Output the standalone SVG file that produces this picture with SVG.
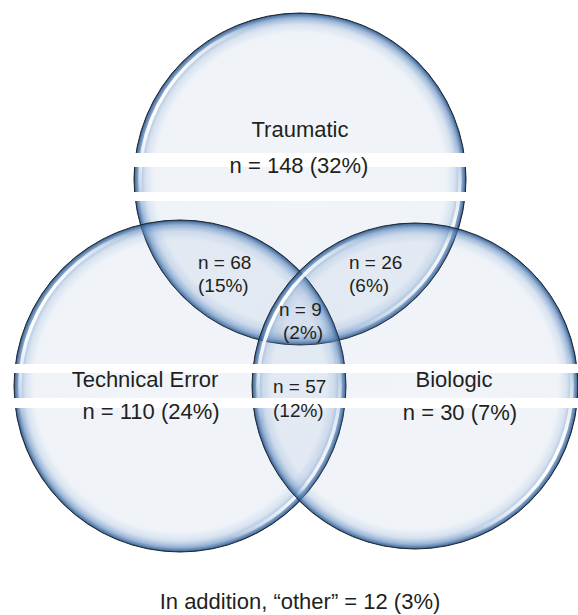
<svg xmlns="http://www.w3.org/2000/svg" width="578" height="615" viewBox="0 0 578 615">
<defs>
<radialGradient id="fillG" cx="0.5" cy="0.5" r="0.5">
 <stop offset="0" stop-color="#7095c4" stop-opacity="0.1"/>
 <stop offset="0.88" stop-color="#7095c4" stop-opacity="0.11"/>
 <stop offset="0.93" stop-color="#7ea2cf" stop-opacity="0.3"/>
 <stop offset="0.97" stop-color="#5583bb" stop-opacity="0.6"/>
 <stop offset="0.993" stop-color="#2f5a8f" stop-opacity="0.85"/>
 <stop offset="1" stop-color="#1d3550" stop-opacity="1"/>
</radialGradient>
<linearGradient id="hlG" x1="0.067" y1="0.25" x2="0.933" y2="0.75">
 <stop offset="0" stop-color="#fff" stop-opacity="1"/>
 <stop offset="0.13" stop-color="#fff" stop-opacity="0"/>
 <stop offset="0.87" stop-color="#fff" stop-opacity="0"/>
 <stop offset="1" stop-color="#fff" stop-opacity="1"/>
</linearGradient>
<filter id="soft" x="-5%" y="-5%" width="110%" height="110%"><feGaussianBlur stdDeviation="0.5"/></filter>
</defs>
<style>
.circ{fill:url(#fillG);stroke:#1b2633;stroke-width:1}
.hl{fill:none;stroke:url(#hlG);stroke-width:3.5;filter:url(#soft)}
.band{fill:#fff}
.lbl{font-family:"Liberation Sans",Arial,sans-serif;font-size:22px;fill:#231f20;text-anchor:middle}
.sm{font-family:"Liberation Sans",Arial,sans-serif;font-size:19px;fill:#231f20}
</style>
<rect width="578" height="615" fill="#fff"/>
<g id="circles">
 <g id="node-traumatic">
  <circle class="circ" cx="300" cy="179" r="166"/>
  <circle class="hl" cx="300" cy="179" r="160"/>
 </g>
 <g id="node-technical-error">
  <circle class="circ" cx="180" cy="386" r="166"/>
  <circle class="hl" cx="180" cy="386" r="160"/>
 </g>
 <g id="node-biologic">
  <circle class="circ" cx="415" cy="386" r="163"/>
  <circle class="hl" cx="415" cy="386" r="157"/>
 </g>
</g>
<g id="connectors"></g>
<g id="bands">
 <rect class="band" x="0" y="153" width="578" height="14"/>
 <rect class="band" x="0" y="192" width="578" height="9"/>
 <rect class="band" x="0" y="364" width="578" height="9"/>
 <rect class="band" x="0" y="398" width="578" height="10"/>
</g>
<g id="labels">
 <g id="label-traumatic">
  <text class="lbl" x="300" y="137">Traumatic</text>
  <text class="lbl" x="299" y="173">n = 148 (32%)</text>
 </g>
 <g id="label-technical-error">
  <text class="lbl" x="145" y="387">Technical Error</text>
  <text class="lbl" x="151" y="419">n = 110 (24%)</text>
 </g>
 <g id="label-biologic">
  <text class="lbl" x="454" y="387">Biologic</text>
  <text class="lbl" x="460" y="420">n = 30 (7%)</text>
 </g>
 <g id="label-trauma-tech">
  <text class="sm" x="198" y="269">n = 68</text>
  <text class="sm" x="198" y="292">(15%)</text>
 </g>
 <g id="label-trauma-bio">
  <text class="sm" x="349" y="269">n = 26</text>
  <text class="sm" x="349" y="292">(6%)</text>
 </g>
 <g id="label-all">
  <text class="sm" x="279" y="316">n = 9</text>
  <text class="sm" x="283" y="339">(2%)</text>
 </g>
 <g id="label-tech-bio">
  <text class="sm" x="273" y="393">n = 57</text>
  <text class="sm" x="273" y="417">(12%)</text>
 </g>
 <text class="lbl" x="300" y="609">In addition, “other” = 12 (3%)</text>
</g>
</svg>
